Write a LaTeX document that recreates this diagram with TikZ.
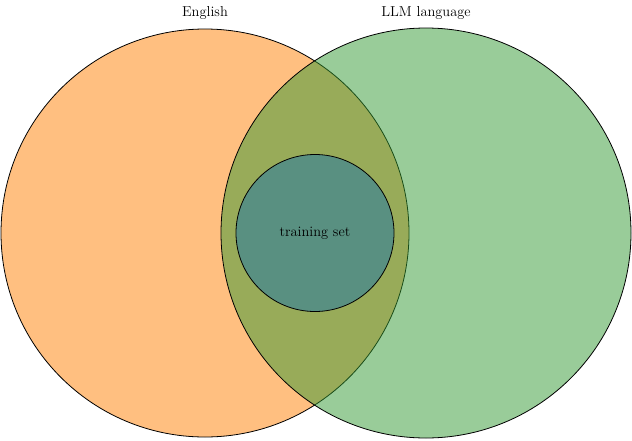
\documentclass[tikz,border=0pt]{standalone}
\usetikzlibrary{shapes.geometric}
\begin{document}
\begin{tikzpicture}[x=1pt,y=-1pt,
  lbl/.style={font=\Large},
  set/.style={draw=black,line width=0.8pt}]
\definecolor{eng}{RGB}{255,191,128}
\definecolor{llm}{RGB}{51,153,51}
\definecolor{trn}{RGB}{27,118,170}
\useasboundingbox (0,0) rectangle (632,440);
\node[set,circle,fill=eng,minimum size=408pt,inner sep=0pt] (en) at (205,233) {};
\node[set,circle,fill=llm,fill opacity=0.5,minimum size=410pt,inner sep=0pt] (ll) at (426,233) {};
\node[set,ellipse,fill=trn,fill opacity=0.5,text opacity=1,minimum width=158pt,minimum height=157pt,inner sep=0pt,font=\Large] (tr) at (315,233) {training set};
\node[lbl] (enl) at (205,13) {English};
\node[lbl] (lll) at (426,13) {LLM language};
\end{tikzpicture}
\end{document}
